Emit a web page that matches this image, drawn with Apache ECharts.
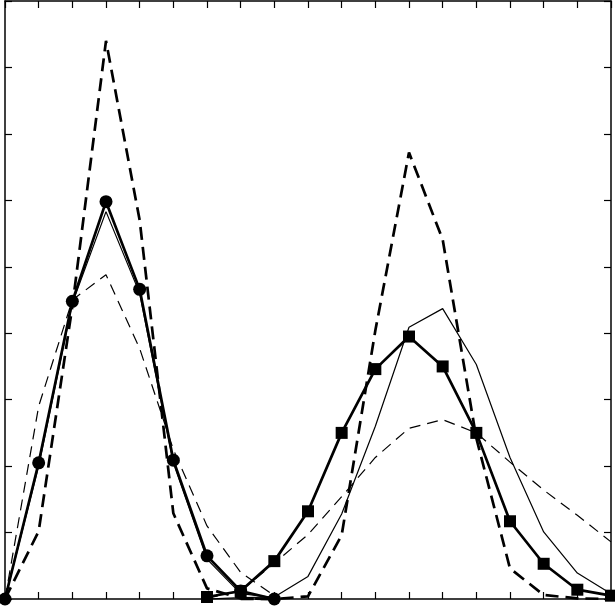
<!DOCTYPE html>
<html><head><meta charset="utf-8">
<script src="https://cdn.jsdelivr.net/npm/echarts@6/dist/echarts.min.js"></script>
<style>html,body{margin:0;padding:0;background:#fff}#c{width:615px;height:606px}</style>
</head><body><div id="c"></div>
<script>
// x positions 0..18
const xValues = [0,1,2,3,4,5,6,7,8,9,10,11,12,13,14,15,16,17,18];
const N = null;
// left hump
const circleSolid   = [0, 2.05, 4.48, 5.98, 4.66, 2.09, 0.65, 0.12, 0,    N,N,N,N,N,N,N,N,N,N];
const thinSolidLeft = [0, 2.0,  4.45, 5.83, 4.6,  2.05, 0.6,  0.08, 0.02, N,N,N,N,N,N,N,N,N,N];
const thickDashLeft = [0, 1.02, 4.4,  8.4,  5.7,  1.29, 0.16, 0.01, 0,    N,N,N,N,N,N,N,N,N,N];
const thinDashLeft  = [0, 2.9,  4.5,  4.88, 3.77, 2.25, 1.1,  0.4,  0.05, N,N,N,N,N,N,N,N,N,N];
// right hump
const squareSolid    = [N,N,N,N,N,N, 0.03, 0.12, 0.57, 1.32, 2.5,  3.46, 3.95, 3.5,  2.5,  1.17, 0.53, 0.14, 0.05];
const thinSolidRight = [N,N,N,N,N,N, 0,    0.02, 0.03, 0.34, 1.28, 2.6,  4.09, 4.37, 3.53, 2.13, 1.01, 0.39, 0.08];
const thickDashRight = [N,N,N,N,N,N,N, 0,    0,    0.04, 0.96, 4.04, 6.72, 5.41, 2.42, 0.46, 0.06, 0.01, 0];
const thinDashRight  = [N,N,N,N,N,N, 0.01, 0.12, 0.54, 0.97, 1.54, 2.13, 2.57, 2.7,  2.5,  2.06, 1.64, 1.26, 0.86];

function pairs(arr){ return xValues.map((x,i)=>[x, arr[i]]); }

const thin = {color:'#000', width:1.2};
const thick = {color:'#000', width:2.7};
function line(arr, ls, z, extra){
  return Object.assign({type:'line', data:pairs(arr), symbol:'none', clip:false, z:z,
    lineStyle:ls, connectNulls:false, animation:false}, extra||{});
}

const chart = echarts.init(document.getElementById('c'), null, {renderer:'canvas'});
const axisCommon = {
  type:'value', axisLabel:{show:false}, splitLine:{show:false},
  axisLine:{show:true, onZero:false, lineStyle:{color:'#000', width:1.5}},
  axisTick:{show:true, inside:true, length:7, lineStyle:{color:'#000', width:1.2}}
};
chart.setOption({
  animation:false,
  grid:{left:5, right:4, top:1, bottom:7},
  xAxis:[
    Object.assign({}, axisCommon, {min:0, max:18, interval:1, position:'bottom'}),
    Object.assign({}, axisCommon, {min:0, max:18, interval:1, position:'top'})
  ],
  yAxis:[
    Object.assign({}, axisCommon, {min:0, max:9, interval:1, position:'left'}),
    Object.assign({}, axisCommon, {min:0, max:9, interval:1, position:'right'})
  ],
  series:[
    line(thinDashLeft,  Object.assign({type:[11,7]}, thin), 2),
    line(thinDashRight, Object.assign({type:[11,7]}, thin), 2),
    line(thinSolidLeft,  Object.assign({type:'solid'}, thin), 3),
    line(thinSolidRight, Object.assign({type:'solid'}, thin), 3),
    line(thickDashLeft,  Object.assign({type:[13,7]}, thick), 4),
    line(thickDashRight, Object.assign({type:[13,7]}, thick), 4),
    line(circleSolid, Object.assign({type:'solid'}, thick), 5,
      {symbol:'circle', symbolSize:13, showSymbol:true, itemStyle:{color:'#000'}}),
    line(squareSolid, Object.assign({type:'solid'}, thick), 5,
      {symbol:'rect', symbolSize:12, showSymbol:true, itemStyle:{color:'#000'}})
  ]
});
</script></body></html>
